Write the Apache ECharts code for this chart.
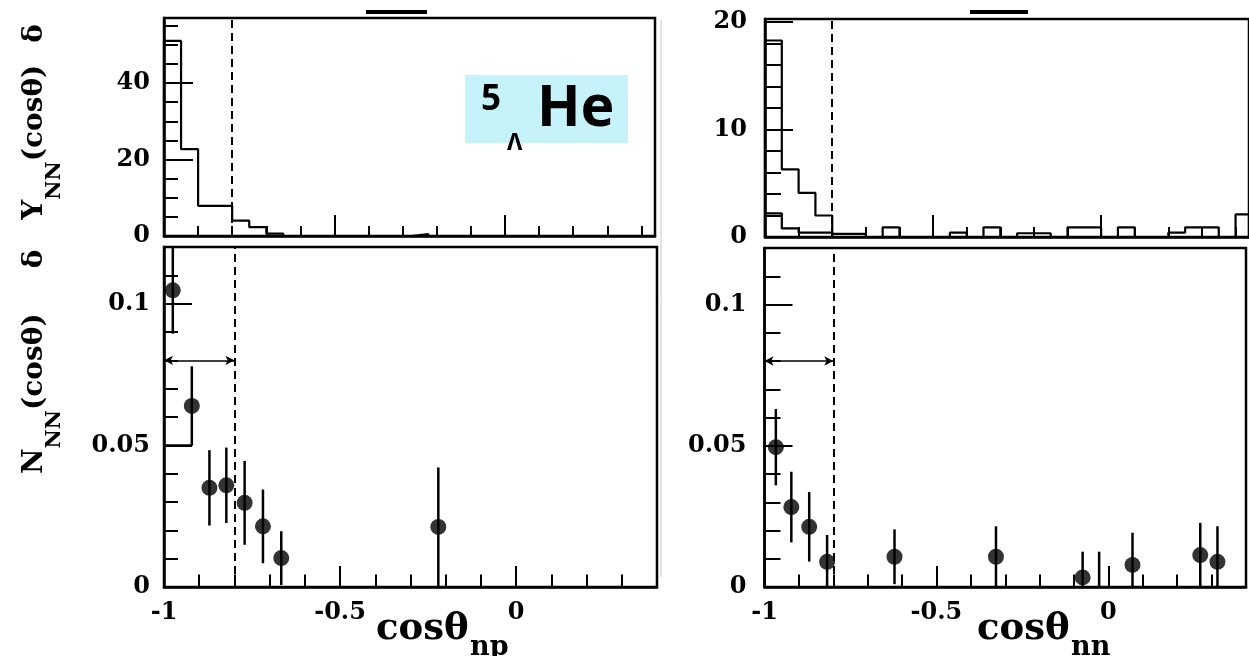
<!DOCTYPE html>
<html>
<head>
<meta charset="utf-8">
<script src="https://cdn.jsdelivr.net/npm/echarts@6/dist/echarts.min.js"></script>
<style>
  html, body { margin: 0; padding: 0; background: #fff; }
  #main { width: 1249px; height: 656px; }
</style>
</head>
<body>
<div id="main"></div>
<script>
// Opening-angle distributions of nucleon pairs from non-mesonic decay:
// upper row = raw pair yields, lower row = normalised numbers per pair.

// ---- np pairs: yield histogram (bin edges / contents) ----
const npYieldEdges  = [-1, -0.95, -0.9, -0.8, -0.75, -0.7, -0.65, -0.275, -0.225];
const npYieldValues = [51, 22.7, 7.9, 4.0, 2.3, 0.6, 0, 0.5];

// ---- np pairs: normalised points with errors ----
const npCos   = [-0.975, -0.921, -0.871, -0.823, -0.771, -0.719, -0.667, -0.221];
const npNorm  = [0.1047, 0.0639, 0.0350, 0.0359, 0.0297, 0.0214, 0.0102, 0.0212];
const npError = [0.0153, 0.0140, 0.0133, 0.0133, 0.0148, 0.0130, 0.0095, 0.0210];
// reference level drawn in the first bins
const npRefEdges  = [-1, -0.922];
const npRefValues = [0.05];

// ---- nn pairs: yield histograms ----
const nnYieldEdges  = [-1, -0.95, -0.9, -0.85, -0.8, -0.7, -0.65, -0.6, -0.45, -0.4, -0.35, -0.3,
                       -0.25, -0.15, -0.1, 0, 0.05, 0.1, 0.2, 0.25, 0.35, 0.4, 0.44];
const nnYieldValues = [18.3, 6.3, 4.1, 2.0, 0.3, 0, 0.9, 0, 0.4, 0, 0.9, 0,
                       0.35, 0, 0.9, 0, 0.9, 0, 0.4, 0.9, 0, 2.1];
const nnBackEdges  = [-1, -0.95, -0.9, -0.8];
const nnBackValues = [2.2, 0.8, 0.4];

// ---- nn pairs: normalised points with errors ----
const nnCos   = [-0.967, -0.922, -0.870, -0.818, -0.622, -0.327, -0.075, 0.070, 0.267, 0.317];
const nnNorm  = [0.0495, 0.0283, 0.0213, 0.0089, 0.0107, 0.0107, 0.0034, 0.0078, 0.0113, 0.0089];
const nnError = [0.0135, 0.0125, 0.0123, 0.0095, 0.0097, 0.0108, 0.0091, 0.0114, 0.0114, 0.0126];
// empty bin: only its error bar is drawn
const nnEmptyCos = [-0.027];
const nnEmptyErr = [0.0125];

// angular cut and opening-angle window
const cosCut = -0.8;
const windowLevel = 0.08;

// axis tick settings
const xMajor = 0.5, xMinor = 0.1;
const npYieldMajor = 20, npYieldMinor = 5;
const nnYieldMajor = 10, nnYieldMinor = 2;
const normMajor = 0.05, normMinor = 0.01;

// ------------------------------------------------------------------
const SERIF = 'DejaVu Serif';

function steps(edges, values) {
  const pts = [[edges[0], 0]];
  for (let i = 0; i < values.length; i++) {
    pts.push([edges[i], values[i]]);
    pts.push([edges[i + 1], values[i]]);
  }
  pts.push([edges[edges.length - 1], 0]);
  return pts;
}

function onMultiple(step) {
  return function (v) {
    const r = v / step;
    return Math.abs(r - Math.round(r)) < 1e-6 ? String(+v.toFixed(4)) : '';
  };
}

const labelFont = { fontFamily: SERIF, fontWeight: 'bold', fontSize: 24, color: '#000' };

function valueAxis(gridIndex, pos, min, max, interval, tickLen, withLine, label) {
  return {
    type: 'value', gridIndex: gridIndex, position: pos,
    min: min, max: max, interval: interval,
    axisLine: { show: withLine, onZero: false, lineStyle: { color: '#000', width: 2.5 } },
    axisTick: { show: true, inside: true, length: tickLen, lineStyle: { color: '#000', width: 2 } },
    splitLine: { show: false },
    axisLabel: label ? Object.assign({ show: true, formatter: onMultiple(interval) }, label)
                     : { show: false }
  };
}

const xLabel = Object.assign({ margin: 14 }, labelFont);
const yLabelL = Object.assign({ margin: 14 }, labelFont);
const yLabelR = Object.assign({ margin: 18 }, labelFont);

const frame = { show: true, borderColor: '#000', borderWidth: 2.5, backgroundColor: '#fff' };

const histLine = { color: '#000', width: 2.2 };

function cutLine() {
  return {
    silent: true, symbol: 'none', animation: false,
    label: { show: false },
    lineStyle: { color: '#000', width: 2, type: [8, 5] },
    data: [{ xAxis: cosCut }]
  };
}

function windowArrow() {
  return {
    silent: true, animation: false,
    symbol: ['arrow', 'arrow'], symbolSize: [7, 9],
    label: { show: false },
    lineStyle: { color: '#000', width: 1.5, type: 'solid' },
    data: [[{ coord: [-1, windowLevel] }, { coord: [cosCut, windowLevel] }]]
  };
}

function errorBars(xi, yi, xs, ys, es) {
  return {
    type: 'custom', xAxisIndex: xi, yAxisIndex: yi, clip: true, z: 4,
    data: xs.map((x, i) => [x, ys[i], es[i]]),
    renderItem: function (params, api) {
      const x = api.value(0), y = api.value(1), e = api.value(2);
      const top = api.coord([x, y + e]);
      const bot = api.coord([x, Math.max(0, y - e)]);
      return {
        type: 'line',
        shape: { x1: top[0], y1: top[1], x2: bot[0], y2: bot[1] },
        style: { stroke: '#000', lineWidth: 2.5 }
      };
    }
  };
}

function points(xi, yi, xs, ys) {
  return {
    type: 'scatter', xAxisIndex: xi, yAxisIndex: yi, z: 5,
    symbol: 'circle', symbolSize: 16,
    itemStyle: { color: '#000' },
    data: xs.map((x, i) => [x, ys[i]])
  };
}

function titleText(x, y, text, size) {
  return { type: 'text', z: 101, x: x, y: y,
    style: { text: text, fontFamily: SERIF, fontWeight: 'bold', fontSize: size, fill: '#000',
             textVerticalAlign: 'bottom', verticalAlign: 'bottom' } };
}

const option = {
  animation: false,
  backgroundColor: '#fff',
  grid: [
    Object.assign({ left: 164, top: 18, width: 491, height: 218 }, frame),
    Object.assign({ left: 164, top: 247, width: 493, height: 340 }, frame),
    Object.assign({ left: 765, top: 19, width: 494.5, height: 218 }, frame),
    Object.assign({ left: 764.5, top: 248, width: 500, height: 339 }, frame)
  ],
  xAxis: [
    valueAxis(0, 'bottom', -1, 0.44, xMajor, 21, true, null),
    valueAxis(0, 'bottom', -1, 0.44, xMinor, 10, false, null),
    valueAxis(1, 'bottom', -1, 0.4, xMajor, 21, true, xLabel),
    valueAxis(1, 'bottom', -1, 0.4, xMinor, 12.5, false, null),
    valueAxis(2, 'bottom', -1, 0.44, xMajor, 22, true, null),
    valueAxis(2, 'bottom', -1, 0.44, xMinor, 10, false, null),
    valueAxis(3, 'bottom', -1, 0.4, xMajor, 21, true, xLabel),
    valueAxis(3, 'bottom', -1, 0.4, xMinor, 12.5, false, null)
  ],
  yAxis: [
    valueAxis(0, 'left', 0, 57, npYieldMajor, 29, true, yLabelL),
    valueAxis(0, 'left', 0, 57, npYieldMinor, 14, false, null),
    valueAxis(1, 'left', 0, 0.12, normMajor, 28, true, yLabelL),
    valueAxis(1, 'left', 0, 0.12, normMinor, 14, false, null),
    valueAxis(2, 'left', 0, 20.3, nnYieldMajor, 28, true, yLabelR),
    valueAxis(2, 'left', 0, 20.3, nnYieldMinor, 16, false, null),
    valueAxis(3, 'left', 0, 0.12, normMajor, 28, true, yLabelR),
    valueAxis(3, 'left', 0, 0.12, normMinor, 16, false, null)
  ],
  series: [
    // np yield
    { type: 'line', xAxisIndex: 0, yAxisIndex: 0, data: steps(npYieldEdges, npYieldValues),
      symbol: 'none', lineStyle: histLine, z: 3, markLine: cutLine() },
    // np normalised
    { type: 'line', xAxisIndex: 2, yAxisIndex: 2, data: steps(npRefEdges, npRefValues).slice(1, -1),
      symbol: 'none', lineStyle: histLine, z: 3, markLine: cutLine() },
    { type: 'line', xAxisIndex: 2, yAxisIndex: 2, data: [], markLine: windowArrow() },
    errorBars(2, 2, npCos, npNorm, npError),
    points(2, 2, npCos, npNorm),
    // nn yield
    { type: 'line', xAxisIndex: 4, yAxisIndex: 4, data: steps(nnYieldEdges, nnYieldValues),
      symbol: 'none', lineStyle: histLine, z: 3, markLine: cutLine() },
    { type: 'line', xAxisIndex: 4, yAxisIndex: 4, data: steps(nnBackEdges, nnBackValues),
      symbol: 'none', lineStyle: histLine, z: 3 },
    // nn normalised
    { type: 'line', xAxisIndex: 6, yAxisIndex: 6, data: [], markLine: cutLine() },
    { type: 'line', xAxisIndex: 6, yAxisIndex: 6, data: [], markLine: windowArrow() },
    errorBars(6, 6, nnCos, nnNorm, nnError),
    errorBars(6, 6, nnEmptyCos, nnEmptyCos.map(() => 0), nnEmptyErr),
    points(6, 6, nnCos, nnNorm)
  ],
  graphic: [
    // title remnants above the upper frames
    { type: 'rect', z: 100, shape: { x: 366, y: 10, width: 61, height: 4 }, style: { fill: '#000' } },
    { type: 'rect', z: 100, shape: { x: 970, y: 10, width: 58, height: 4 }, style: { fill: '#000' } },
    // pad separator
    { type: 'line', z: 100, shape: { x1: 661, y1: 20, x2: 661, y2: 577 }, style: { stroke: '#c8c8c8', lineWidth: 1 } },
    // hypernucleus tag
    { type: 'rect', z: 100, shape: { x: 465, y: 75, width: 163, height: 68 }, style: { fill: '#c6f3fa' } },
    { type: 'text', z: 101, x: 481, y: 100,
      style: { text: '5', fontFamily: 'Noto Sans', fontWeight: 'bold', fontSize: 35, fill: '#000',
               textVerticalAlign: 'middle', verticalAlign: 'middle' } },
    { type: 'text', z: 101, x: 507, y: 143,
      style: { text: 'Λ', fontFamily: 'Noto Sans', fontWeight: 'bold', fontSize: 23, fill: '#000',
               textVerticalAlign: 'middle', verticalAlign: 'middle' } },
    { type: 'text', z: 101, x: 537, y: 110,
      style: { text: 'He', fontFamily: 'Noto Sans', fontWeight: 'bold', fontSize: 57, fill: '#000',
               textVerticalAlign: 'middle', verticalAlign: 'middle' } },
    // vertical axis title
    { type: 'text', z: 101, x: 35, y: 474, rotation: Math.PI / 2,
      style: {
        text: '{n|N}{s|NN}{n|(cosθ)}{d|δ}{n|Y}{s|NN}{n|(cosθ)}{e|δ}',
        textAlign: 'left', align: 'left', textVerticalAlign: 'middle', verticalAlign: 'middle',
        rich: {
          n: { fontFamily: SERIF, fontWeight: 'bold', fontSize: 28, lineHeight: 60,
               verticalAlign: 'middle', fill: '#000', color: '#000' },
          s: { fontFamily: SERIF, fontWeight: 'bold', fontSize: 21, lineHeight: 21,
               verticalAlign: 'bottom', fill: '#000', color: '#000' },
          d: { fontFamily: SERIF, fontWeight: 'bold', fontSize: 28, lineHeight: 60,
               verticalAlign: 'middle', padding: [0, 30, 0, 45], fill: '#000', color: '#000' },
          e: { fontFamily: SERIF, fontWeight: 'bold', fontSize: 28, lineHeight: 60,
               verticalAlign: 'middle', padding: [0, 0, 0, 22], fill: '#000', color: '#000' }
        }
      } },
    // horizontal axis titles
    titleText(376, 648, 'cosθ', 37),
    titleText(470, 661, 'np', 27),
    titleText(977, 648, 'cosθ', 37),
    titleText(1071, 661, 'nn', 27)
  ]
};

const chart = echarts.init(document.getElementById('main'), null, { renderer: 'canvas' });
chart.setOption(option);
</script>
</body>
</html>
